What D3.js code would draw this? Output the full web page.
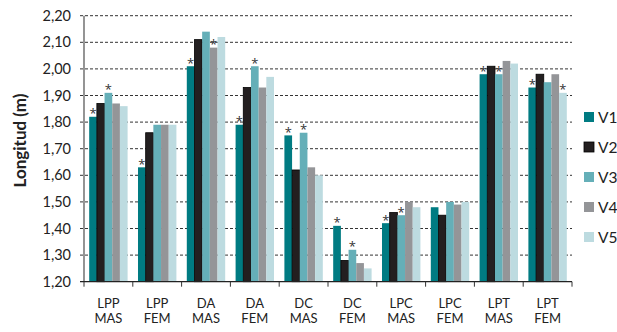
<!DOCTYPE html>
<html>
<head>
<meta charset="utf-8">
<script src="https://cdn.jsdelivr.net/npm/d3@7/dist/d3.min.js"></script>
<style>
  html, body { margin: 0; padding: 0; background: #fff; }
  svg { display: block; font-family: Lato, "Open Sans", sans-serif; }
</style>
</head>
<body>
<svg id="chart" width="617" height="332"></svg>
<script>
// Category labels (two lines each) and the five series
const categories = ["LPP MAS", "LPP FEM", "DA MAS", "DA FEM", "DC MAS", "DC FEM", "LPC MAS", "LPC FEM", "LPT MAS", "LPT FEM"];
const seriesNames = ["V1", "V2", "V3", "V4", "V5"];
const v1 = [1.82, 1.63, 2.01, 1.79, 1.75, 1.41, 1.42, 1.48, 1.98, 1.93];
const v2 = [1.87, 1.76, 2.11, 1.93, 1.62, 1.28, 1.46, 1.45, 2.01, 1.98];
const v3 = [1.91, 1.79, 2.14, 2.01, 1.76, 1.32, 1.45, 1.50, 1.98, 1.95];
const v4 = [1.87, 1.79, 2.08, 1.93, 1.63, 1.27, 1.50, 1.49, 2.03, 1.98];
const v5 = [1.86, 1.79, 2.12, 1.97, 1.60, 1.25, 1.48, 1.50, 2.02, 1.91];
// Significance marks (*) per series, per category
const star1 = [1, 1, 1, 1, 1, 1, 1, 0, 1, 1];
const star2 = [0, 0, 0, 0, 0, 0, 0, 0, 0, 0];
const star3 = [1, 0, 0, 1, 1, 1, 1, 0, 1, 0];
const star4 = [0, 0, 1, 0, 0, 0, 0, 0, 0, 0];
const star5 = [0, 0, 0, 0, 0, 0, 0, 0, 0, 1];
const yTicks = [1.2, 1.3, 1.4, 1.5, 1.6, 1.7, 1.8, 1.9, 2.0, 2.1, 2.2];
const colors = ["#007b82", "#231f20", "#65afb8", "#949598", "#bddbe0"];

const values = [v1, v2, v3, v4, v5];
const stars = [star1, star2, star3, star4, star5];

const svg = d3.select("#chart");
const plotLeft = 84, plotRight = 572, plotTop = 15.7, plotBottom = 281.7;

const y = d3.scaleLinear().domain([1.2, 2.2]).range([plotBottom, plotTop]);
const pad = 0.213;
const x0 = d3.scaleBand().domain(categories).range([plotLeft, plotRight])
  .paddingInner(pad).paddingOuter(pad / 2);
const x1 = d3.scaleBand().domain(seriesNames).range([0, x0.bandwidth()]);
const step = x0.step();

// dashed gridlines
svg.append("g").selectAll("line")
  .data(yTicks.filter(t => t > 1.2))
  .join("line")
  .attr("x1", plotLeft - 4).attr("x2", plotRight)
  .attr("y1", d => y(d)).attr("y2", d => y(d))
  .attr("stroke", "#333")
  .attr("stroke-width", 1)
  .attr("stroke-dasharray", "3,2");

// bars
const groups = svg.append("g").selectAll("g")
  .data(categories)
  .join("g")
  .attr("transform", d => `translate(${x0(d)},0)`);

const rowsFor = ci => seriesNames.map((s, si) => ({ s, si, v: values[si][ci], star: stars[si][ci] }));

groups.selectAll("rect")
  .data((c, ci) => rowsFor(ci))
  .join("rect")
  .attr("x", d => x1(d.s))
  .attr("width", x1.bandwidth())
  .attr("y", d => y(d.v))
  .attr("height", d => y(1.2) - y(d.v))
  .attr("fill", d => colors[d.si])
  .attr("stroke", d => d.si === 1 ? "#000" : "none")
  .attr("stroke-width", 0.8);

groups.selectAll("text.star")
  .data((c, ci) => rowsFor(ci).filter(d => d.star))
  .join("text")
  .attr("class", "star")
  .attr("x", d => x1(d.s) + x1.bandwidth() / 2)
  .attr("y", d => y(d.v) + 1.5)
  .attr("text-anchor", "middle")
  .attr("font-family", "'Open Sans', sans-serif")
  .attr("font-size", 13)
  .attr("fill", "#333")
  .text("*");

// y axis line
svg.append("line")
  .attr("x1", plotLeft).attr("x2", plotLeft)
  .attr("y1", plotTop).attr("y2", plotBottom)
  .attr("stroke", "#7a7a7a").attr("stroke-width", 1.6);

// y tick labels
svg.append("g").selectAll("text")
  .data(yTicks)
  .join("text")
  .attr("x", 71)
  .attr("y", d => y(d) + 5)
  .attr("text-anchor", "end")
  .attr("font-size", 14.5)
  .attr("fill", "#222")
  .text(d => d3.format(".2f")(d).replace(".", ","));

// x axis line and boundary ticks
svg.append("line")
  .attr("x1", plotLeft - 4).attr("x2", plotRight)
  .attr("y1", plotBottom).attr("y2", plotBottom)
  .attr("stroke", "#222").attr("stroke-width", 1.2);
svg.append("g").selectAll("line")
  .data(d3.range(categories.length + 1))
  .join("line")
  .attr("x1", i => plotLeft + i * step).attr("x2", i => plotLeft + i * step)
  .attr("y1", plotBottom).attr("y2", plotBottom + 5)
  .attr("stroke", "#333").attr("stroke-width", 1);

// category labels, one text per line
const catLines = categories.flatMap(c => c.split(" ").map((p, i) => ({ c, p, i })));
svg.append("g").selectAll("text")
  .data(catLines)
  .join("text")
  .attr("x", d => x0(d.c) + x0.bandwidth() / 2)
  .attr("y", d => 307.5 + d.i * 15.8)
  .attr("text-anchor", "middle")
  .attr("font-size", 13)
  .attr("fill", "#222")
  .text(d => d.p);

// y axis title
svg.append("text")
  .attr("transform", "translate(25.5,140.5) rotate(-90)")
  .attr("text-anchor", "middle")
  .attr("font-size", 17)
  .attr("font-weight", "bold")
  .attr("fill", "#222")
  .text("Longitud (m)");

// legend
const legend = svg.append("g").selectAll("g")
  .data(seriesNames)
  .join("g")
  .attr("transform", (d, i) => `translate(584,${117 + i * 30})`);
legend.append("rect")
  .attr("x", 0).attr("y", -5)
  .attr("width", 10).attr("height", 10)
  .attr("fill", (d, i) => colors[i])
  .attr("stroke", (d, i) => i === 1 ? "#000" : "none")
  .attr("stroke-width", 0.8);
legend.append("text")
  .attr("x", 14).attr("y", 5.5)
  .attr("font-size", 15.5)
  .attr("fill", "#222")
  .text(d => d);
</script>
</body>
</html>
